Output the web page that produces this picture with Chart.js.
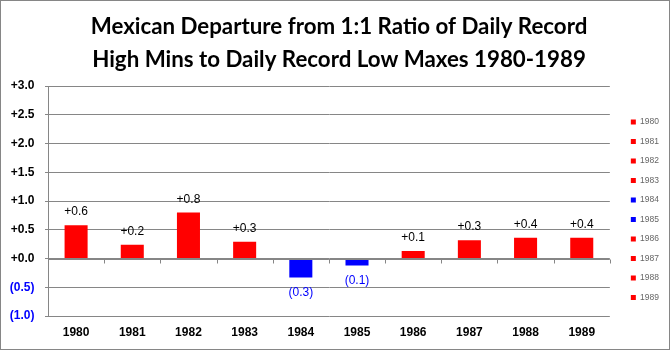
<!DOCTYPE html>
<html lang="en">

<head>
    <meta charset="UTF-8">
    <title>Mexican Departure from 1:1 Ratio</title>
    <script src="https://cdn.jsdelivr.net/npm/chart.js"></script>
    <style>
        body { margin: 0; background: #fff; }
        #wrap { width: 670px; height: 350px; position: relative; }
    </style>
</head>

<body>
    <div id="wrap">
        <canvas id="grafico"></canvas>
    </div>

    <script>
        // Datos
        const years = ["1980", "1981", "1982", "1983", "1984", "1985", "1986", "1987", "1988", "1989"];
        const departure = [0.58, 0.24, 0.80, 0.29, -0.33, -0.12, 0.13, 0.32, 0.36, 0.36];
        const titleLines = ["Mexican Departure from 1:1 Ratio of Daily Record", "High Mins to Daily Record Low Maxes 1980-1989"];

        const RED = "#ff0000";
        const BLUE = "#0000ff";
        const GRID = "#868686";

        const fmt = (v) => v >= 0 ? "+" + v.toFixed(1) : "(" + Math.abs(v).toFixed(1) + ")";
        const barColors = departure.map((v) => v < 0 ? BLUE : RED);

        // borde exterior y fondo blanco
        const frame = {
            id: "frame",
            beforeDraw(chart) {
                const c = chart.ctx;
                c.save();
                c.fillStyle = "#fff";
                c.fillRect(0, 0, chart.width, chart.height);
                c.strokeStyle = GRID;
                c.lineWidth = 1;
                c.strokeRect(0.5, 0.5, chart.width - 1, chart.height - 1);
                c.restore();
            }
        };

        // marcas del eje x sobre la linea del cero + etiquetas de valores
        const extras = {
            id: "extras",
            afterDatasetsDraw(chart) {
                const c = chart.ctx;
                const x = chart.scales.x, y = chart.scales.y;
                const y0 = Math.round(y.getPixelForValue(0)) + 0.5;
                c.save();
                c.strokeStyle = GRID;
                c.lineWidth = 1;
                c.beginPath();
                c.moveTo(chart.chartArea.left, y0);
                c.lineTo(chart.chartArea.right, y0);
                for (let i = 0; i <= years.length; i++) {
                    const px = Math.round(x.getPixelForValue(i - 0.5)) + 0.5;
                    c.moveTo(px, y0);
                    c.lineTo(px, y0 + 4);
                }
                c.stroke();

                c.font = "12px 'Liberation Sans'";
                c.textAlign = "center";
                c.textBaseline = "alphabetic";
                chart.getDatasetMeta(0).data.forEach((bar, i) => {
                    const v = departure[i];
                    c.fillStyle = v < 0 ? BLUE : "#000";
                    c.fillText(fmt(v), bar.x, v < 0 ? bar.y + 19 : bar.y - 10);
                });
                c.restore();
            }
        };

        new Chart(document.getElementById("grafico"), {
            type: "bar",
            data: {
                labels: years,
                datasets: [{
                    label: "Departure",
                    data: departure,
                    backgroundColor: barColors,
                    borderWidth: 0,
                    categoryPercentage: 1,
                    barPercentage: 0.41
                }]
            },
            options: {
                responsive: true,
                maintainAspectRatio: false,
                animation: false,
                layout: { padding: { left: 9, right: 1, top: 0, bottom: 11 } },
                plugins: {
                    title: {
                        display: true,
                        text: titleLines,
                        color: "#000",
                        font: { family: "Lato", size: 22.3, weight: "bold", lineHeight: 1.46 },
                        padding: { top: 11, bottom: 10 }
                    },
                    legend: {
                        position: "right",
                        onClick: null,
                        // titulo vacio solo para bajar los items
                        title: { display: true, text: "", font: { size: 10, lineHeight: 1 }, padding: { top: 70.5, bottom: 0 } },
                        labels: {
                            boxWidth: 5,
                            boxHeight: 5,
                            padding: 11,
                            color: "#000",
                            font: { family: "Liberation Sans", size: 8.5 },
                            generateLabels: () => years.map((yr, i) => ({
                                text: yr,
                                fillStyle: barColors[i],
                                strokeStyle: barColors[i],
                                lineWidth: 0,
                                hidden: false,
                                index: i
                            }))
                        }
                    },
                    tooltip: { enabled: false }
                },
                scales: {
                    x: {
                        grid: { display: false, drawTicks: false },
                        border: { display: false },
                        ticks: {
                            color: "#000",
                            padding: 9.3,
                            font: { family: "Liberation Sans", size: 12, weight: "bold" }
                        },
                        afterFit: (s) => { s.height = 23; }
                    },
                    y: {
                        min: -1,
                        max: 3,
                        ticks: {
                            stepSize: 0.5,
                            padding: 10.5,
                            callback: (v) => fmt(v),
                            color: (ctx) => ctx.tick && ctx.tick.value < 0 ? BLUE : "#000",
                            font: { family: "Liberation Sans", size: 12, weight: "bold" }
                        },
                        grid: { color: GRID, tickLength: 3, tickColor: GRID },
                        border: { display: true, color: GRID },
                        afterFit: (s) => { s.width = 39; }
                    },
                    gap: {
                        type: "linear",
                        position: "right",
                        display: true,
                        grid: { display: false, drawTicks: false },
                        border: { display: false },
                        ticks: { display: false },
                        afterFit: (s) => { s.width = 10; }
                    }
                }
            },
            plugins: [frame, extras]
        });
    </script>
</body>

</html>
